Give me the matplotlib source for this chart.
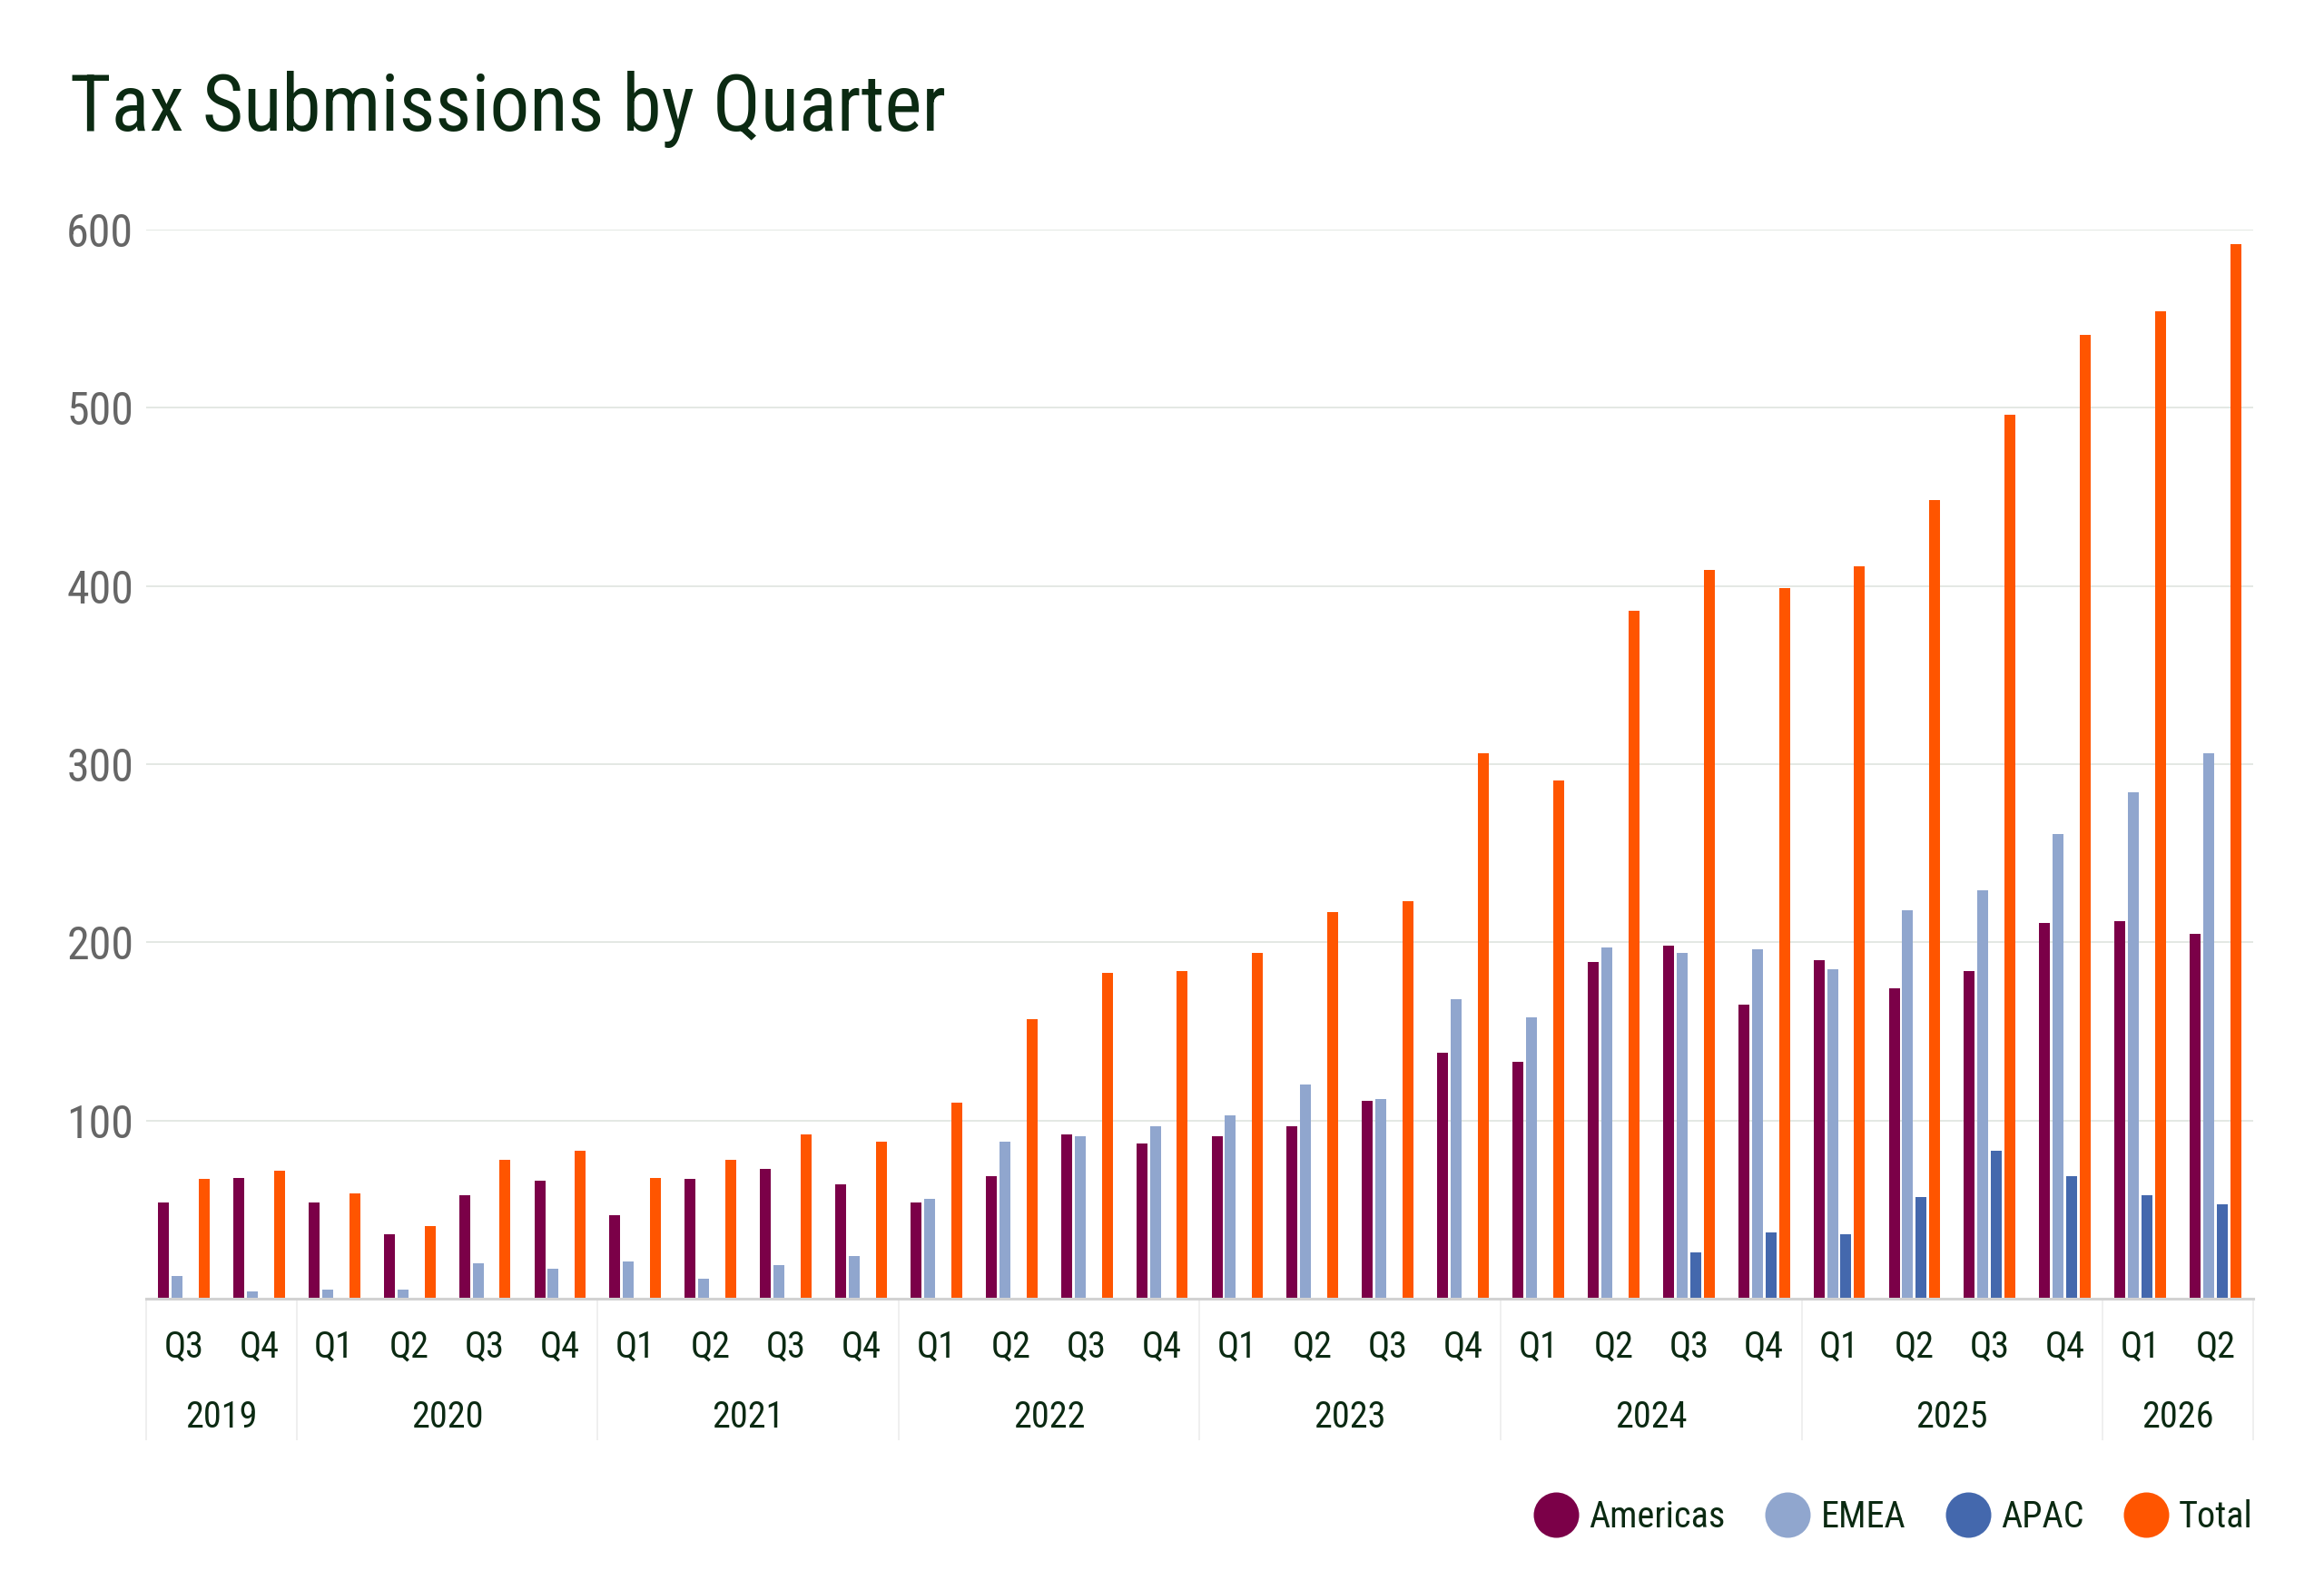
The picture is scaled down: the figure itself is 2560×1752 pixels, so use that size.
import numpy as np
import matplotlib
matplotlib.use("Agg")
import matplotlib.pyplot as plt
from matplotlib import font_manager
from matplotlib.lines import Line2D

# --- data ---
quarters = ["Q3", "Q4",
            "Q1", "Q2", "Q3", "Q4",
            "Q1", "Q2", "Q3", "Q4",
            "Q1", "Q2", "Q3", "Q4",
            "Q1", "Q2", "Q3", "Q4",
            "Q1", "Q2", "Q3", "Q4",
            "Q1", "Q2", "Q3", "Q4",
            "Q1", "Q2"]
years = ["2019", "2020", "2021", "2022", "2023", "2024", "2025", "2026"]
year_counts = [2, 4, 4, 4, 4, 4, 4, 2]

americas = [54, 68, 54, 36, 58, 66, 47, 67, 73, 64, 54, 69, 92, 87,
            91, 97, 111, 138, 133, 189, 198, 165, 190, 174, 184, 211, 212, 205]
emea = [13, 4, 5, 5, 20, 17, 21, 11, 19, 24, 56, 88, 91, 97,
        103, 120, 112, 168, 158, 197, 194, 196, 185, 218, 229, 261, 284, 306]
apac = [np.nan] * 20 + [26, 37, 36, 57, 83, 69, 58, 53]
total = [67, 72, 59, 41, 78, 83, 68, 78, 92, 88, 110, 157, 183, 184,
         194, 217, 223, 306, 291, 386, 409, 399, 411, 448, 496, 541, 554, 592]

series_names = ["Americas", "EMEA", "APAC", "Total"]
colors = ["#7b0048", "#90a6ce", "#4468ad", "#ff5500"]

# pick a condensed font if one is installed
avail = set(f.name for f in font_manager.fontManager.ttflist)
family = "DejaVu Sans"
stretch = "normal"
for cand in ["Roboto Condensed", "Liberation Sans Narrow", "Open Sans Condensed"]:
    if cand in avail:
        family = cand
        break
else:
    stretch = "condensed"
plt.rcParams["font.family"] = [family, "DejaVu Sans"]
plt.rcParams["font.stretch"] = stretch

dark = "#0b2a12"
grey = "#666666"

fig = plt.figure(figsize=(25.6, 17.52), dpi=100)
ax = fig.add_axes([0.0629, 0.1832, 0.9066, 0.6724])

x = np.arange(len(quarters))
pitch = 0.18
width = 0.145
for i, (vals, col) in enumerate(zip([americas, emea, apac, total], colors)):
    ax.bar(x + (i - 1.5) * pitch, vals, width=width, color=col,
           linewidth=0, zorder=3)

ax.set_xlim(-0.5, len(quarters) - 0.5)
ax.set_ylim(0, 600)
ax.set_yticks([100, 200, 300, 400, 500, 600])
ax.grid(axis="y", color="#e4e8e4", linewidth=1.4, zorder=0)
ax.tick_params(axis="y", length=0, pad=10, labelsize=36, labelcolor=grey)

ax.set_xticks(x)
ax.set_xticklabels(quarters)
ax.tick_params(axis="x", length=0, pad=38, labelsize=29, labelcolor=dark)
for lab in ax.get_xticklabels():
    lab.set_va("center")

for s in ["top", "right", "left"]:
    ax.spines[s].set_visible(False)
ax.spines["bottom"].set_color("#d2d2d2")
ax.spines["bottom"].set_linewidth(2.2)
ax.spines["bottom"].set_zorder(4)

# year groups under the quarter labels
trans = ax.get_xaxis_transform()
edges = np.concatenate([[0], np.cumsum(year_counts)]) - 0.5
ax.vlines(edges, -0.132, 0, transform=trans, colors="#ececec",
          linewidth=1.2, clip_on=False)
for yr, a, b in zip(years, edges[:-1], edges[1:]):
    ax.text((a + b) / 2, -0.111, yr, transform=trans, ha="center", va="center",
            fontsize=29, color=dark)

fig.text(0.030, 0.918, "Tax Submissions by Quarter", fontsize=63,
         color=dark, va="baseline", ha="left")

handles = [Line2D([], [], marker="o", linestyle="none", markersize=36,
                  markerfacecolor=c, markeredgewidth=0) for c in colors]
leg = fig.legend(handles, series_names, loc="center right",
                 bbox_to_anchor=(0.9695, 0.0457), ncol=4, frameon=False,
                 fontsize=29, handlelength=1.2, handletextpad=0.3,
                 columnspacing=1.1, borderpad=0, borderaxespad=0)
for t in leg.get_texts():
    t.set_color(dark)

fig.savefig("out.png", dpi=100, facecolor="white")
